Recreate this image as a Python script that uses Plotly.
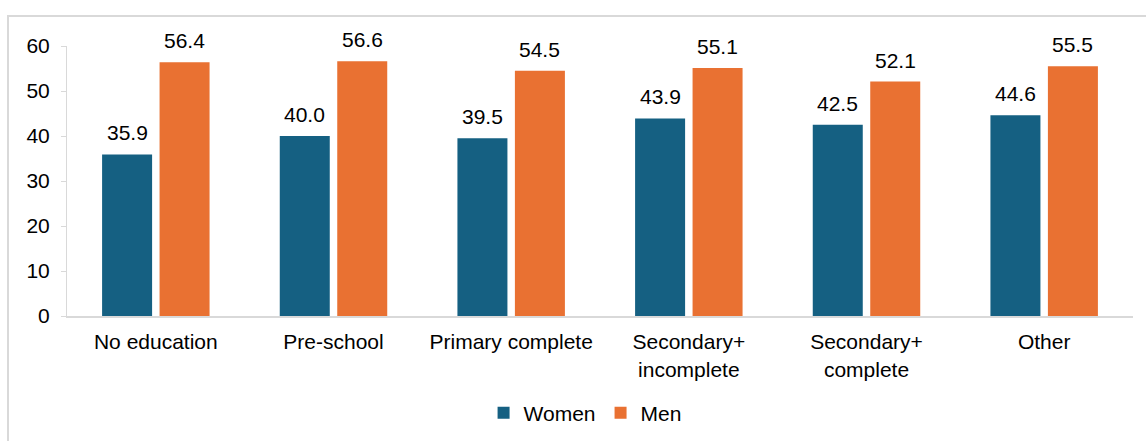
import plotly.graph_objects as go

categories = ["No education", "Pre-school", "Primary complete",
              "Secondary+<br>incomplete", "Secondary+<br>complete", "Other"]
women = [35.9, 40.0, 39.5, 43.9, 42.5, 44.6]
men = [56.4, 56.6, 54.5, 55.1, 52.1, 55.5]
y_ticks = [0, 10, 20, 30, 40, 50, 60]

C_W = "#156082"
C_M = "#E97132"
FONT = "Liberation Sans, Arial, sans-serif"
FS = 21

fig = go.Figure()
fig.add_trace(go.Bar(x=categories, y=women, name="Women", marker_color=C_W,
                     marker_line_width=0))
fig.add_trace(go.Bar(x=categories, y=men, name="Men", marker_color=C_M,
                     marker_line_width=0))

W, H = 1146, 441
L, R, T, B = 67, 13, 46, 125
pw = W - L - R
slot = pw / len(categories) * (1 - 0.353) / 2

annotations = []
for i, c in enumerate(categories):
    for vals, off in ((women, -slot / 2), (men, slot / 2)):
        annotations.append(dict(x=c, y=vals[i], xref="x", yref="y",
                                text=f"{vals[i]:.1f}", showarrow=False,
                                yanchor="bottom", xshift=off, yshift=8,
                                font=dict(size=FS, color="#000000", family=FONT)))

ph = H - T - B
fig.update_layout(
    width=W, height=H,
    margin=dict(l=L, r=R, t=T, b=B, autoexpand=False),
    paper_bgcolor="white", plot_bgcolor="white",
    barmode="group", bargap=0.353, bargroupgap=0.13,
    font=dict(family=FONT, size=FS, color="#000000"),
    showlegend=True,
    legend=dict(orientation="h", x=0.486, xanchor="center",
                yref="container", y=(H - 413) / H,
                yanchor="middle", font=dict(size=FS), itemwidth=30,
                traceorder="normal"),
    annotations=annotations,
    shapes=[dict(type="rect", xref="paper", yref="paper",
                 x0=(8 - L) / pw, x1=(1160 - L) / pw,
                 y0=(H - B - 460) / ph, y1=(H - B - 16) / ph,
                 line=dict(color="#d9d9d9", width=2), fillcolor="rgba(0,0,0,0)",
                 layer="below")],
)
fig.update_yaxes(range=[0, 60], tickvals=y_ticks, showgrid=False,
                 showline=True, linecolor="#d9d9d9", linewidth=1,
                 ticks="outside", ticklen=5, tickcolor="#d9d9d9",
                 ticklabelstandoff=7,
                 tickfont=dict(size=FS), zeroline=False)
fig.update_xaxes(showline=True, linecolor="#d9d9d9", linewidth=2,
                 ticks="", tickfont=dict(size=FS), showgrid=False,
                 ticklabelstandoff=6)

fig.write_html("out.html")
